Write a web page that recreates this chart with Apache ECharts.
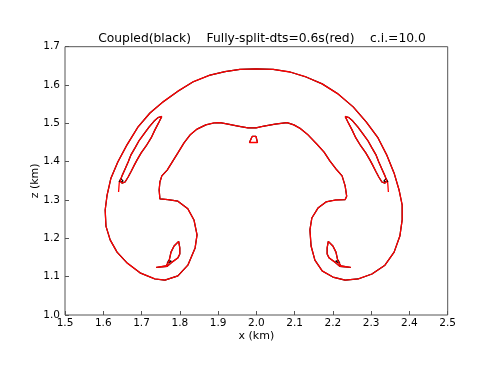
<!DOCTYPE html>
<html>
<head>
<meta charset="utf-8">
<script src="https://cdn.jsdelivr.net/npm/echarts@6/dist/echarts.min.js"></script>
<style>
html,body{margin:0;padding:0;background:#fff;}
#chart{width:487px;height:372px;}
</style>
</head>
<body>
<div id="chart"></div>
<script>
const titleText = "Coupled(black)    Fully-split-dts=0.6s(red)    c.i.=10.0";
const xTicks = [1.5,1.6,1.7,1.8,1.9,2.0,2.1,2.2,2.3,2.4,2.5];
const yTicks = [1.0,1.1,1.2,1.3,1.4,1.5,1.6,1.7];

// main closed contour (outer cap + lobes + inner arch), km
const mainContour = [
[1.999,1.642],[1.957,1.641],[1.918,1.635],[1.879,1.626],[1.834,1.608],[1.795,1.584],[1.756,1.556],
[1.722,1.527],[1.691,1.491],[1.662,1.444],[1.638,1.399],[1.620,1.357],[1.610,1.313],[1.605,1.274],
[1.607,1.232],[1.618,1.196],[1.636,1.164],[1.662,1.136],[1.696,1.110],[1.735,1.094],[1.761,1.091],
[1.795,1.102],[1.821,1.130],[1.840,1.175],[1.845,1.209],[1.837,1.248],[1.821,1.277],[1.795,1.297],
[1.769,1.301],[1.748,1.303],[1.746,1.326],[1.748,1.347],[1.753,1.363],[1.767,1.378],[1.780,1.399],
[1.795,1.423],[1.811,1.449],[1.827,1.470],[1.845,1.485],[1.868,1.496],[1.889,1.501],[1.905,1.502],
[1.926,1.498],[1.952,1.493],[1.978,1.488],[1.999,1.488],[2.020,1.493],[2.049,1.498],[2.080,1.502],
[2.098,1.496],[2.114,1.487],[2.135,1.470],[2.158,1.446],[2.177,1.425],[2.192,1.402],[2.208,1.381],
[2.224,1.363],[2.232,1.337],[2.236,1.310],[2.232,1.301],[2.206,1.300],[2.182,1.295],[2.161,1.279],
[2.145,1.253],[2.140,1.222],[2.143,1.180],[2.153,1.143],[2.172,1.115],[2.200,1.099],[2.232,1.091],
[2.266,1.094],[2.302,1.107],[2.336,1.130],[2.360,1.164],[2.375,1.206],[2.381,1.248],[2.381,1.287],
[2.373,1.326],[2.360,1.370],[2.341,1.417],[2.318,1.462],[2.287,1.504],[2.253,1.543],[2.213,1.577],
[2.172,1.603],[2.130,1.621],[2.088,1.634],[2.044,1.641],[1.999,1.642]
];
const leftWing = [
[1.753,1.518],[1.746,1.504],[1.735,1.483],[1.725,1.462],[1.712,1.441],[1.699,1.423],[1.688,1.404],
[1.680,1.389],[1.672,1.373],[1.665,1.360],[1.657,1.347],[1.649,1.344],[1.644,1.350],[1.649,1.363],
[1.657,1.381],[1.665,1.399],[1.672,1.417],[1.683,1.436],[1.693,1.454],[1.706,1.472],[1.720,1.491],
[1.733,1.506],[1.743,1.515],[1.753,1.518]
];
const rightWing = [
[2.232,1.518],[2.239,1.504],[2.250,1.483],[2.260,1.462],[2.273,1.441],[2.286,1.423],[2.297,1.404],
[2.305,1.389],[2.313,1.373],[2.320,1.360],[2.328,1.347],[2.336,1.344],[2.341,1.350],[2.336,1.363],
[2.328,1.381],[2.320,1.399],[2.313,1.417],[2.302,1.436],[2.292,1.454],[2.279,1.472],[2.265,1.491],
[2.252,1.506],[2.242,1.515],[2.232,1.518]
];
const leftTail = [[1.642,1.347],[1.641,1.335],[1.640,1.321]];
const rightTail = [[2.343,1.347],[2.344,1.335],[2.345,1.321]];
const leftFish = [
[1.738,1.124],[1.764,1.128],[1.772,1.141],[1.777,1.164],[1.785,1.180],[1.797,1.192],[1.800,1.175],
[1.800,1.159],[1.795,1.149],[1.780,1.138],[1.767,1.127],[1.738,1.124]
];
const rightFish = [
[2.247,1.124],[2.221,1.128],[2.213,1.141],[2.208,1.164],[2.200,1.180],[2.188,1.192],[2.185,1.175],
[2.185,1.159],[2.190,1.149],[2.205,1.138],[2.218,1.127],[2.247,1.124]
];
const centerBox = [[1.989,1.466],[1.999,1.466],[2.003,1.450],[1.982,1.450],[1.989,1.466]];
// small black-only details
const blackLeftTri = [[1.641,1.347],[1.652,1.349],[1.646,1.356],[1.641,1.347]];
const blackRightTri = [[2.344,1.347],[2.333,1.349],[2.339,1.356],[2.344,1.347]];
const blackLeftFishTri = [[1.767,1.135],[1.778,1.140],[1.771,1.143],[1.767,1.135]];
const blackRightFishTri = [[2.218,1.135],[2.207,1.140],[2.214,1.143],[2.218,1.135]];

const redShapes = [mainContour, leftWing, rightWing, leftTail, rightTail, leftFish, rightFish, centerBox];
const blackShapes = [mainContour, leftWing, rightWing, leftFish, rightFish, centerBox,
  blackLeftTri, blackRightTri, blackLeftFishTri, blackRightFishTri];

function lineSeries(data, color, width, z) {
  return { type:'line', data:data, showSymbol:false, symbol:'none', smooth:false, z:z,
    animation:false, silent:true, lineStyle:{color:color, width:width} };
}
const series = [];
blackShapes.forEach(d => series.push(lineSeries(d, '#000000', 1.2, 2)));
redShapes.forEach(d => series.push(lineSeries(d, '#ff0000', 1.3, 3)));

const FONT = 'DejaVu Sans';
const chart = echarts.init(document.getElementById('chart'), null, {renderer:'canvas'});
chart.setOption({
  animation:false,
  backgroundColor:'#ffffff',
  title:{ text:titleText, left:257, top:28, textAlign:'center',
    textStyle:{ fontFamily:FONT, fontSize:12.3, fontWeight:'normal', color:'#000' } },
  grid:{ left:65, top:46.7, width:382.7, height:268.3, show:true, borderColor:'#555', borderWidth:1, backgroundColor:'transparent' },
  xAxis:{ type:'value', min:1.5, max:2.5, interval:0.1,
    name:'x (km)', nameLocation:'middle', nameGap:16, nameMoveOverlap:false,
    nameTextStyle:{ fontFamily:FONT, fontSize:11, color:'#000' },
    axisLine:{ show:false }, splitLine:{ show:false },
    axisTick:{ show:true, inside:true, length:4, lineStyle:{ color:'#555' } },
    axisLabel:{ fontFamily:FONT, fontSize:10.5, color:'#000', margin:3,
      formatter: v => { const t = xTicks.find(a => Math.abs(a - v) < 1e-6); return t === undefined ? '' : t.toFixed(1); } } },
  yAxis:{ type:'value', min:1.0, max:1.7, interval:0.1,
    name:'z (km)', nameLocation:'middle', nameGap:24, nameRotate:90, nameMoveOverlap:false,
    nameTextStyle:{ fontFamily:FONT, fontSize:11, color:'#000' },
    axisLine:{ show:false }, splitLine:{ show:false },
    axisTick:{ show:true, inside:true, length:4, lineStyle:{ color:'#555' } },
    axisLabel:{ fontFamily:FONT, fontSize:10.5, color:'#000', margin:5,
      formatter: v => { const t = yTicks.find(a => Math.abs(a - v) < 1e-6); return t === undefined ? '' : t.toFixed(1); } } },
  series: series
});
</script>
</body>
</html>
